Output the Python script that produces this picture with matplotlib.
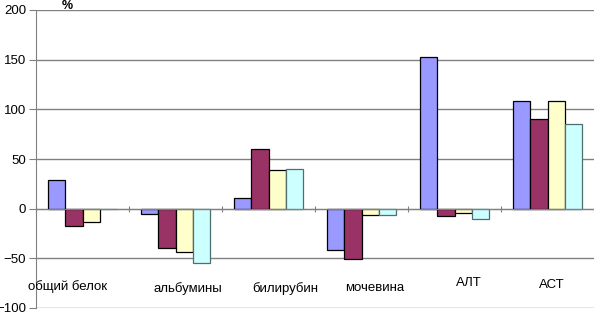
import matplotlib.pyplot as plt
import numpy as np

plt.rcParams['font.family'] = ['Liberation Sans', 'DejaVu Sans']

categories = ["общий белок", "альбумины", "билирубин", "мочевина", "АЛТ", "АСТ"]
series_1 = [29, -5, 11, -42, 153, 108]
series_2 = [-17, -40, 60, -51, -7, 90]
series_3 = [-13, -44, 39, -6, -4, 108]
series_4 = [0, -55, 40, -6, -10, 85]
series = [series_1, series_2, series_3, series_4]
colors = ["#9999FF", "#993366", "#FFFFCC", "#CCFFFF"]
edges = ["black", "black", "black", "#4f6f6f"]

# label positions (offset from category centre, y value)
label_dx = [-0.16, 0.13, 0.18, 0.14, 0.15, 0.05]
label_y = [-78, -80, -80, -80, -75, -77]

fig = plt.figure(figsize=(5.94, 3.12), dpi=100)
ax = fig.add_axes([36 / 594, 4 / 312, 558 / 594, 298 / 312])

x = np.arange(len(categories))
w = 0.183
for i, (vals, c, e) in enumerate(zip(series, colors, edges)):
    ax.bar(x + (i - 1.5) * w, vals, w, color=c, edgecolor=e, linewidth=0.9, zorder=3)

ax.set_xlim(-0.5, 5.5)
ax.set_ylim(-100, 200)
ax.set_yticks(range(-100, 201, 50))
ax.yaxis.grid(True, color="#808080", linewidth=1)
ax.set_axisbelow(True)

ax.spines['top'].set_visible(False)
ax.spines['right'].set_visible(False)
ax.spines['left'].set_color("#808080")
ax.spines['bottom'].set_position(('data', 0))
ax.spines['bottom'].set_color("#808080")
ax.spines['bottom'].set_zorder(4)

ax.set_xticks(np.arange(-0.5, 5.6, 1.0))
ax.set_xticklabels([])
ax.tick_params(axis='x', direction='inout', length=5, color="#808080")
ax.tick_params(axis='y', direction='out', length=5, color="#808080", labelsize=9.5, pad=2)

for i, name in enumerate(categories):
    ax.text(i + label_dx[i], label_y[i], name, ha='center', va='center', fontsize=9.5)

fig.text(67 / 594, 1 - 6 / 312, "%", ha='center', va='center', fontsize=9, fontweight='bold')

fig.savefig("out.png", dpi=100)
